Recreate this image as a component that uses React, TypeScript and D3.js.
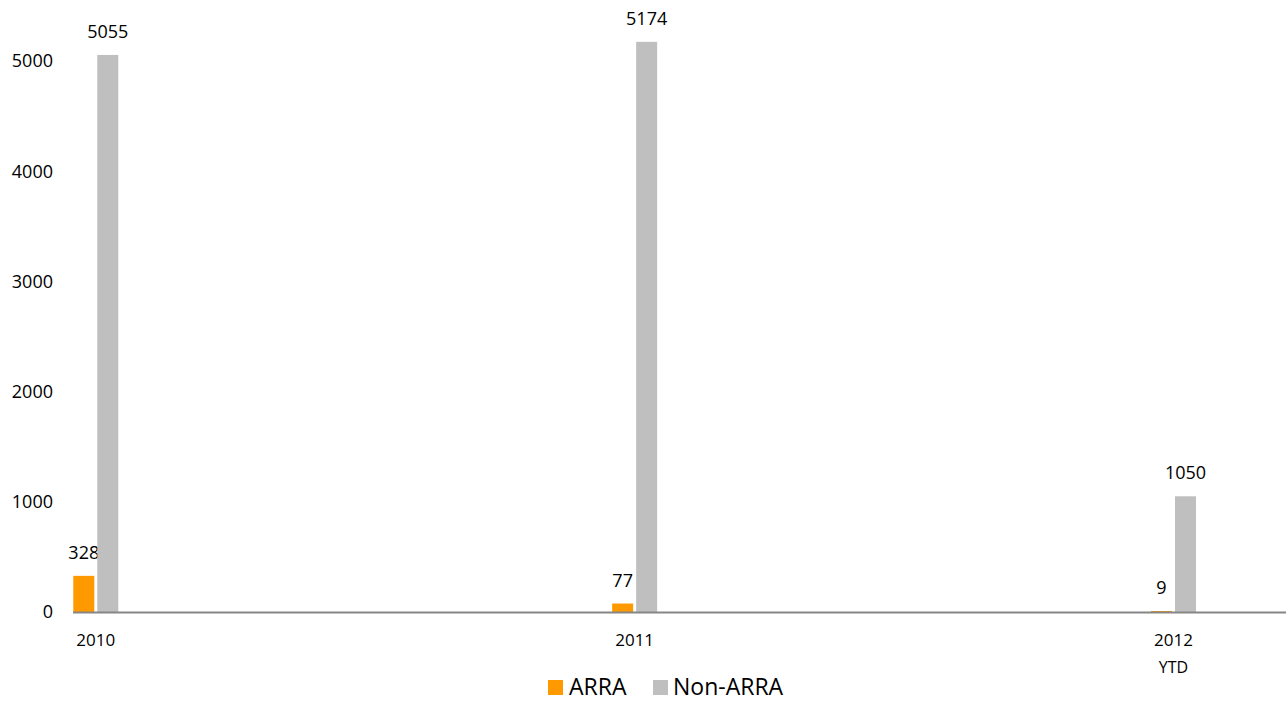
import * as React from 'react';
import * as d3 from 'd3';

const categories = ['2010', '2011', '2012'];
const categorySubLabels = ['', '', 'YTD'];
const arraValues = [328, 77, 9];
const nonArraValues = [5055, 5174, 1050];
const yTicks = [0, 1000, 2000, 3000, 4000, 5000];
const seriesNames = ['ARRA', 'Non-ARRA'];
const seriesColours = ['#FF9900', '#BFBFBF'];

const width = 1286;
const height = 702;
const font = '"Open Sans", sans-serif';

export default function App() {
  const x = d3.scalePoint<string>().domain(categories).range([95.8, 1173.5]);
  const y = d3.scaleLinear().domain([0, 5000]).range([612, 61]);
  const barW = 21;
  const gap = 3;

  const series = [arraValues, nonArraValues];

  return (
    <svg width={width} height={height} style={{ position: 'absolute', left: 0, top: 0 }} fontFamily={font}>
      {yTicks.map(t => (
        <text key={t} x={53} y={y(t)} dy="0.35em" textAnchor="end" fontSize={18} fill="#000">{t}</text>
      ))}

      {series.map((vals, si) =>
        vals.map((v, i) => {
          const cx = x(categories[i])!;
          const bx = si === 0 ? cx - gap / 2 - barW : cx + gap / 2;
          return (
            <g key={si + '-' + i}>
              <rect x={bx} y={y(v)} width={barW} height={y(0) - y(v)} fill={seriesColours[si]} />
              <text x={bx + barW / 2} y={y(v) - 17} textAnchor="middle" fontSize={18} fill="#000">{v}</text>
            </g>
          );
        })
      )}

      <line x1={73} x2={width} y1={y(0) + 0.5} y2={y(0) + 0.5} stroke="#868686" strokeWidth={2} />

      {categories.map((c, i) => (
        <text key={c} x={x(c)!} y={646} textAnchor="middle" fontSize={17} fill="#000">
          <tspan x={x(c)!}>{c}</tspan>
          {categorySubLabels[i] && <tspan x={x(c)!} dy={27} fontSize={16}>{categorySubLabels[i]}</tspan>}
        </text>
      ))}

      <g>
        <rect x={548} y={680} width={15} height={15} fill={seriesColours[0]} />
        <text x={569} y={695} fontSize={23} fill="#000">{seriesNames[0]}</text>
        <rect x={653} y={680} width={15} height={15} fill={seriesColours[1]} />
        <text x={673} y={695} fontSize={23} fill="#000">{seriesNames[1]}</text>
      </g>
    </svg>
  );
}
